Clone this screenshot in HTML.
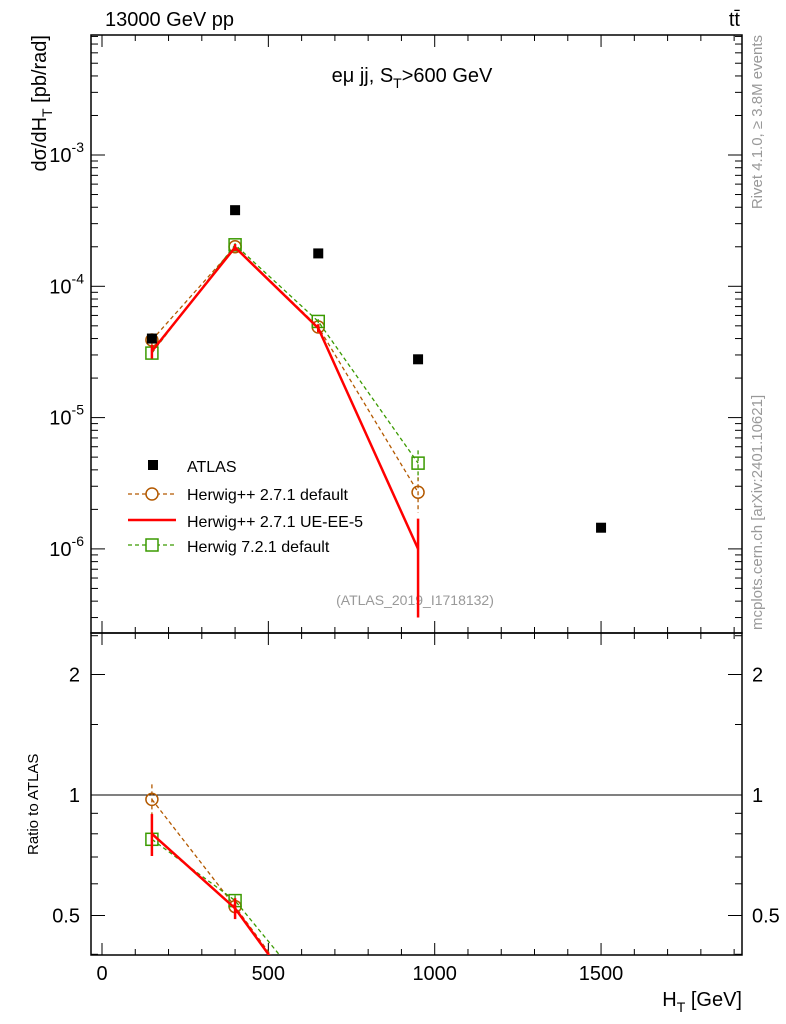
<!DOCTYPE html>
<html><head><meta charset="utf-8"><style>
body{margin:0;background:#fff;overflow:hidden}
svg text{font-family:"Liberation Sans",sans-serif}
</style></head><body>
<svg id="c" width="786" height="1024" xmlns="http://www.w3.org/2000/svg" style="display:block">
<text x="105" y="26" font-size="20">13000 GeV pp</text>
<text x="740" y="26" font-size="20" text-anchor="end">tt̄</text>
<text x="412" y="82" font-size="20" text-anchor="middle">eμ jj, S<tspan font-size="14" dy="6">T</tspan><tspan dy="-6">&gt;600 GeV</tspan></text>
<text x="415" y="605" font-size="14" fill="#999" text-anchor="middle">(ATLAS_2019_I1718132)</text>
<text transform="translate(762,35) rotate(-90)" font-size="15" fill="#999" text-anchor="end">Rivet 4.1.0, ≥ 3.8M events</text>
<text transform="translate(762,630) rotate(-90)" font-size="15" fill="#999">mcplots.cern.ch [arXiv:2401.10621]</text>
<text transform="translate(46,35) rotate(-90)" font-size="20" text-anchor="end">dσ/dH<tspan font-size="14" dy="6">T</tspan><tspan dy="-6"> [pb/rad]</tspan></text>
<text transform="translate(38,855) rotate(-90)" font-size="15">Ratio to ATLAS</text>
<text x="742" y="1006" font-size="20" text-anchor="end">H<tspan font-size="14" dy="6">T</tspan><tspan dy="-6"> [GeV]</tspan></text>
<g id="g"></g>
</svg>
<script>
const xBins=[150,400,650,950,1500];
const atlas=[4.0e-5,3.8e-4,1.78e-4,2.78e-5,1.45e-6];
const hwDef=[3.9e-5,2.0e-4,4.9e-5,2.7e-6];
const hwUE=[3.2e-5,1.98e-4,4.8e-5,1.0e-6];
const hw7=[3.1e-5,2.07e-4,5.4e-5,4.5e-6];
const hwDefErr=[0.09,0.03,0.05,0.3];
const hwUEErr=[0.12,0.06,0.07,0.7];
const hw7Err=[0.08,0.03,0.04,0.25];
const yTicks=[-6,-5,-4,-3];
const xTicks=[0,500,1000,1500];
const rTicks=[0.5,1,2];
const L=91,R=742,T=35,B=633,RT=633,RB=955;
const X=v=>102+(v)*0.3327;
const Y=v=>155-(Math.log10(v)+3)*131.3;
const RY=v=>795-Math.log2(v)*120.5;
const NS="http://www.w3.org/2000/svg";
const g=document.getElementById('g');
function el(t,a,p){const e=document.createElementNS(NS,t);for(const k in a)e.setAttribute(k,a[k]);(p||g).appendChild(e);return e;}
let f1=el('rect',{x:L,y:T,width:R-L,height:B-T,fill:'none',stroke:'#000','stroke-width':1.5});


let f2=el('rect',{x:L,y:RT,width:R-L,height:RB-RT,fill:'none',stroke:'#000','stroke-width':1.5});


for(let v=0;v<=1900;v+=100){const big=v%500==0;const x=X(v);
 for(const [y0,d] of [[B,-1],[T,1],[RB,-1],[RT,1]]) el('line',{x1:x,x2:x,y1:y0,y2:y0+d*(big?12:6),stroke:'#000'});}
xTicks.forEach(v=>{const t=el('text',{x:X(v),y:980,'font-size':20,'text-anchor':'middle'});t.textContent=v;

});
for(let d=-7;d<=-2;d++)for(let m=1;m<10;m++){const v=m*Math.pow(10,d);const y=Y(v);if(y<T||y>B)continue;const big=m==1;
 el('line',{x1:L,x2:L+(big?14:7),y1:y,y2:y,stroke:'#000'});el('line',{x1:R,x2:R-(big?14:7),y1:y,y2:y,stroke:'#000'});}
yTicks.forEach(d=>{const t=el('text',{x:84,y:Y(Math.pow(10,d))+7,'font-size':20,'text-anchor':'end'});
t.innerHTML='10<tspan font-size="14" dy="-10">'+d+'</tspan>';

});
[0.4,0.5,0.6,0.7,0.8,0.9,1,1.5,2,2.5].forEach(v=>{const y=RY(v);if(y<RT||y>RB)return;const big=(v==0.5||v==1||v==2);
 el('line',{x1:L,x2:L+(big?14:7),y1:y,y2:y,stroke:'#000'});el('line',{x1:R,x2:R-(big?14:7),y1:y,y2:y,stroke:'#000'});});
rTicks.forEach(v=>{for(const [x,a] of [[80,'end'],[752,'start']]){const t=el('text',{x:x,y:RY(v)+7,'font-size':20,'text-anchor':a});t.textContent=v;

}});
el('line',{x1:L,x2:R,y1:RY(1),y2:RY(1),stroke:'#000'});
const defs=el('defs',{});
el('rect',{x:L,y:T,width:R-L,height:B-T},el('clipPath',{id:'cm'},defs));
el('rect',{x:L,y:RT,width:R-L,height:RB-RT},el('clipPath',{id:'cr'},defs));
const gm=el('g',{'clip-path':'url(#cm)'}),gr=el('g',{'clip-path':'url(#cr)'});
const series=[
 {v:hwDef,e:hwDefErr,c:'#b35900',dash:'4,3',w:1.3,m:'circle',n:'herwigpp-default'},
 {v:hw7,e:hw7Err,c:'#3a9a00',dash:'4,3',w:1.3,m:'square',n:'herwig7-default'},
 {v:hwUE,e:hwUEErr,c:'#ff0000',dash:'',w:2.5,m:'none',n:'herwigpp-ue-ee-5'}];
function marker(s,x,y,p){if(s.m=='circle')el('circle',{cx:x,cy:y,r:6,fill:'none',stroke:s.c,'stroke-width':1.5},p);
 else if(s.m=='square')el('rect',{x:x-6,y:y-6,width:12,height:12,fill:'none',stroke:s.c,'stroke-width':1.5},p);}
series.forEach(s=>{
 const pts=s.v.map((v,i)=>X(xBins[i])+','+Y(v)).join(' ');
 const pl=el('polyline',{points:pts,fill:'none',stroke:s.c,'stroke-width':s.w,'stroke-dasharray':s.dash},gm);
 
 
 const rp=s.v.map((v,i)=>X(xBins[i])+','+RY(v/atlas[i])).join(' ');
 const rl=el('polyline',{points:rp,fill:'none',stroke:s.c,'stroke-width':s.w,'stroke-dasharray':s.dash},gr);
 
 
 s.v.forEach((v,i)=>{const x=X(xBins[i]);const e=s.e[i];
  el('line',{x1:x,x2:x,y1:Y(v*(1+e)),y2:Y(Math.max(v*(1-e),1e-9)),stroke:s.c,'stroke-width':s.w>2?2.5:1.3,'stroke-dasharray':s.dash},gm);
  el('line',{x1:x,x2:x,y1:RY(v/atlas[i]*(1+e)),y2:RY(v/atlas[i]*(1-e)),stroke:s.c,'stroke-width':s.w>2?2.5:1.3,'stroke-dasharray':s.dash},gr);
  marker(s,x,Y(v),gm);marker(s,x,RY(v/atlas[i]),gr);});
});
atlas.forEach((v,i)=>{const r=el('rect',{x:X(xBins[i])-5,y:Y(v)-5,width:10,height:10,fill:'#000'},gm);
 
 });
const lg=el('g',{});


el('rect',{x:148,y:460,width:10,height:10,fill:'#000'},lg);
const lt=[['ATLAS',472],['Herwig++ 2.7.1 default',500],['Herwig++ 2.7.1 UE-EE-5',527],['Herwig 7.2.1 default',552]];
lt.forEach(([t,y])=>{const e=el('text',{x:187,y:y,'font-size':16},lg);e.textContent=t;

});
el('line',{x1:128,x2:176,y1:494,y2:494,stroke:'#b35900','stroke-dasharray':'4,3','stroke-width':1.3},lg);
el('circle',{cx:152,cy:494,r:6,fill:'#fff',stroke:'#b35900','stroke-width':1.5},lg);
el('line',{x1:128,x2:176,y1:520,y2:520,stroke:'#f00','stroke-width':2.5},lg);
el('line',{x1:128,x2:176,y1:545,y2:545,stroke:'#3a9a00','stroke-dasharray':'4,3','stroke-width':1.3},lg);
el('rect',{x:146,y:539,width:12,height:12,fill:'#fff',stroke:'#3a9a00','stroke-width':1.5},lg);
</script>
</body></html>
